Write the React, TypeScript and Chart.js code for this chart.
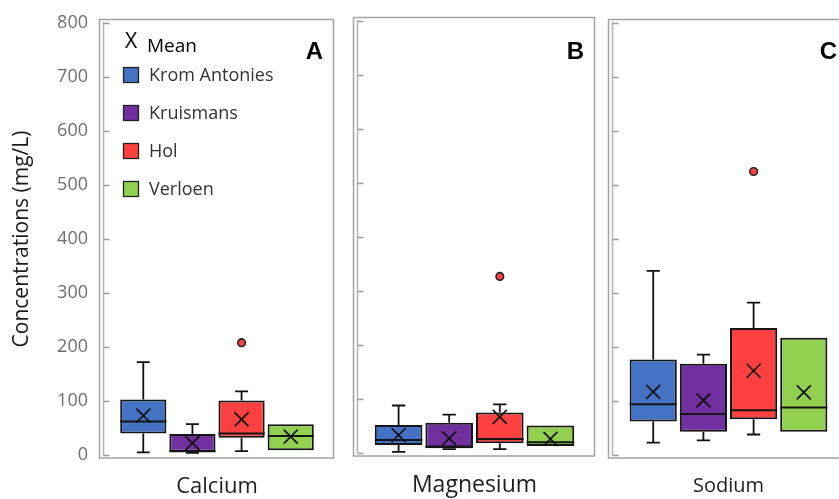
import React, { useEffect, useRef } from 'react';
import { Chart, registerables } from 'chart.js';

Chart.register(...registerables);

// ---------- data ----------
const sites = ['Krom Antonies', 'Kruismans', 'Hol', 'Verloen'];
const siteColors = ['#4472c4', '#7030a0', '#ff4040', '#92d050'];
const elements = ['Calcium', 'Magnesium', 'Sodium'];
const panelLetters = ['A', 'B', 'C'];
const yTicks = [0, 100, 200, 300, 400, 500, 600, 700, 800];
const yTitle = 'Concentrations (mg/L)';
const meanLabel = 'Mean';

const calciumMin = [5, 4, 7, 9];
const calciumQ1 = [40, 6, 32, 9];
const calciumMedian = [62, 7, 40, 35];
const calciumQ3 = [103, 39, 101, 57];
const calciumMax = [172, 57, 118, 57];
const calciumMean = [73, 22, 66, 34];
const calciumOutliers = [[], [], [208], []];

const magnesiumMin = [2, 7, 7, 13];
const magnesiumQ1 = [15, 9, 18, 13];
const magnesiumMedian = [24, 12, 26, 20];
const magnesiumQ3 = [52, 56, 75, 51];
const magnesiumMax = [88, 71, 90, 51];
const magnesiumMean = [33, 27, 67, 26];
const magnesiumOutliers = [[], [], [327], []];

const sodiumMin = [23, 27, 38, 43];
const sodiumQ1 = [62, 43, 66, 43];
const sodiumMedian = [94, 76, 83, 88];
const sodiumQ3 = [177, 169, 235, 217];
const sodiumMax = [341, 186, 282, 217];
const sodiumMean = [117, 101, 156, 116];
const sodiumOutliers = [[], [], [525], []];

const statsByElement = [
  { min: calciumMin, q1: calciumQ1, median: calciumMedian, q3: calciumQ3, max: calciumMax, mean: calciumMean, outliers: calciumOutliers },
  { min: magnesiumMin, q1: magnesiumQ1, median: magnesiumMedian, q3: magnesiumQ3, max: magnesiumMax, mean: magnesiumMean, outliers: magnesiumOutliers },
  { min: sodiumMin, q1: sodiumQ1, median: sodiumMedian, q3: sodiumQ3, max: sodiumMax, mean: sodiumMean, outliers: sodiumOutliers },
];

// ---------- layout (positions / styles only) ----------
const FONT = '"Open Sans", "Noto Sans", sans-serif';
const panelLayouts = [
  { left: 0, width: 340, padLeft: 0, padRight: 6, padTop: 23, bottom: 455, showY: true, xFont: 22 },
  { left: 350, width: 250, padLeft: 4, padRight: 5, padTop: 21, bottom: 453, showY: false, xFont: 23 },
  { left: 605, width: 250, padLeft: 4, padRight: 7, padTop: 23, bottom: 455, showY: false, xFont: 20 },
];
const H = 499;

function makePlugin(idx: number) {
  const st = statsByElement[idx];
  const letter = panelLetters[idx];
  const showLegend = idx === 0;
  return {
    id: 'boxExtras' + idx,
    beforeDatasetsDraw(chart: any) {
      const { ctx, chartArea } = chart;
      const { left, right, top, bottom } = chartArea;
      const y = chart.scales.y;
      ctx.save();
      // frame
      ctx.strokeStyle = '#a3a3a3';
      ctx.lineWidth = 1.5;
      ctx.strokeRect(left - 0.5, top - 3.5, right - left, bottom - top + 6.5);
      // axis line
      ctx.strokeStyle = '#b5b5b5';
      ctx.beginPath();
      ctx.moveTo(left + 3.5, top - 1);
      ctx.lineTo(left + 3.5, bottom + 0.5);
      ctx.stroke();
      // ticks (inward)
      ctx.strokeStyle = '#9a9a9a';
      yTicks.forEach((t) => {
        const py = Math.round(y.getPixelForValue(t)) + 0.5;
        ctx.beginPath();
        ctx.moveTo(left + 3.5, py);
        ctx.lineTo(left + 9.5, py);
        ctx.stroke();
      });
      // whiskers
      ctx.strokeStyle = '#111';
      ctx.lineWidth = 1.8;
      sites.forEach((_, i) => {
        const bar: any = chart.getDatasetMeta(i).data[0];
        if (!bar) return;
        const x = bar.x;
        const cap = bar.width * 0.14;
        const segs = [
          [st.q3[i], st.max[i]],
          [st.q1[i], st.min[i]],
        ];
        segs.forEach(([a, b]) => {
          if (a === b) return;
          const pa = y.getPixelForValue(a);
          const pb = y.getPixelForValue(b);
          ctx.beginPath();
          ctx.moveTo(x, pa);
          ctx.lineTo(x, pb);
          ctx.moveTo(x - cap, pb);
          ctx.lineTo(x + cap, pb);
          ctx.stroke();
        });
      });
      ctx.restore();
    },
    afterDatasetsDraw(chart: any) {
      const { ctx, chartArea } = chart;
      const { left, right } = chartArea;
      const y = chart.scales.y;
      ctx.save();
      sites.forEach((_, i) => {
        const bar: any = chart.getDatasetMeta(i).data[0];
        if (!bar) return;
        const x = bar.x;
        const hw = bar.width / 2;
        // median
        const pm = y.getPixelForValue(st.median[i]);
        ctx.strokeStyle = '#151515';
        ctx.lineWidth = 2;
        ctx.beginPath();
        ctx.moveTo(x - hw, pm);
        ctx.lineTo(x + hw, pm);
        ctx.stroke();
        // mean X
        const pmean = y.getPixelForValue(st.mean[i]);
        const s = 7;
        ctx.strokeStyle = '#111';
        ctx.lineWidth = 1.7;
        ctx.beginPath();
        ctx.moveTo(x - s, pmean - s);
        ctx.lineTo(x + s, pmean + s);
        ctx.moveTo(x + s, pmean - s);
        ctx.lineTo(x - s, pmean + s);
        ctx.stroke();
        // outliers
        st.outliers[i].forEach((v: number) => {
          const po = y.getPixelForValue(v);
          ctx.beginPath();
          ctx.arc(x, po, 3.8, 0, Math.PI * 2);
          ctx.fillStyle = siteColors[i];
          ctx.fill();
          ctx.strokeStyle = '#222';
          ctx.lineWidth = 1.6;
          ctx.stroke();
        });
      });
      // panel letter
      ctx.fillStyle = '#000';
      ctx.font = 'bold 24px "Liberation Sans", Arial, sans-serif';
      ctx.textAlign = 'right';
      ctx.textBaseline = 'middle';
      ctx.fillText(letter, right - 11, 52);
      // legend
      if (showLegend) {
        ctx.textAlign = 'left';
        ctx.textBaseline = 'middle';
        ctx.fillStyle = '#000';
        ctx.font = '21px ' + FONT;
        ctx.fillText('X', left + 25, 42);
        ctx.font = '19px ' + FONT;
        ctx.fillText(meanLabel, left + 47, 47);
        const ys = [75, 113, 151, 189];
        sites.forEach((name, i) => {
          const cy = ys[i];
          ctx.fillStyle = siteColors[i];
          ctx.fillRect(left + 23.5, cy - 7.5, 15, 15);
          ctx.strokeStyle = '#222';
          ctx.lineWidth = 1.3;
          ctx.strokeRect(left + 23.5, cy - 7.5, 15, 15);
          ctx.fillStyle = '#333';
          ctx.font = '18px ' + FONT;
          ctx.fillText(name, left + 49, cy + 1);
        });
      }
      ctx.restore();
    },
  };
}

function Panel({ idx }: { idx: number }) {
  const ref = useRef<HTMLCanvasElement | null>(null);
  useEffect(() => {
    const lay = panelLayouts[idx];
    const st = statsByElement[idx];
    const canvas = ref.current!;
    const chart = new Chart(canvas, {
      type: 'bar',
      data: {
        labels: [elements[idx]],
        datasets: sites.map((name, i) => ({
          label: name,
          data: [[st.q1[i], st.q3[i]]] as any,
          backgroundColor: siteColors[i],
          borderColor: '#151515',
          borderWidth: 2,
          borderSkipped: false,
          barPercentage: 0.94,
          categoryPercentage: 0.84,
        })),
      },
      options: {
        responsive: false,
        animation: false,
        events: [],
        layout: { padding: { left: lay.padLeft, right: lay.padRight, top: lay.padTop, bottom: 0 } },
        plugins: { legend: { display: false }, tooltip: { enabled: false } },
        scales: {
          x: {
            type: 'category',
            grid: { display: false, drawTicks: false },
            border: { display: false },
            ticks: { font: { family: FONT, size: lay.xFont }, color: '#1e1e1e', padding: 19 },
            afterFit: (s: any) => { s.height = H - lay.bottom; },
          },
          y: {
            min: 0,
            max: 800,
            grid: { display: false, drawTicks: false },
            border: { display: false },
            ticks: {
              display: lay.showY,
              stepSize: 100,
              font: { family: FONT, size: 18 },
              color: '#6f6f6f',
              padding: 12,
            },
            title: {
              display: lay.showY,
              text: yTitle,
              font: { family: FONT, size: 21 },
              color: '#1a1a1a',
              padding: { top: 9.5, bottom: 0 },
            },
            afterFit: (s: any) => { s.width = lay.showY ? 100 : 0; },
          },
        },
      } as any,
      plugins: [makePlugin(idx)],
    });
    return () => chart.destroy();
  }, [idx]);
  const lay = panelLayouts[idx];
  return (
    <canvas
      ref={ref}
      width={lay.width}
      height={H}
      style={{ position: 'absolute', left: lay.left, top: 0, width: lay.width, height: H, display: 'block' }}
    />
  );
}

export default function App() {
  return (
    <div
      style={{
        position: 'fixed',
        left: 0,
        top: 0,
        width: 839,
        height: H,
        overflow: 'hidden',
        background: '#fff',
      }}
    >
      {elements.map((_, i) => (
        <Panel key={i} idx={i} />
      ))}
    </div>
  );
}
